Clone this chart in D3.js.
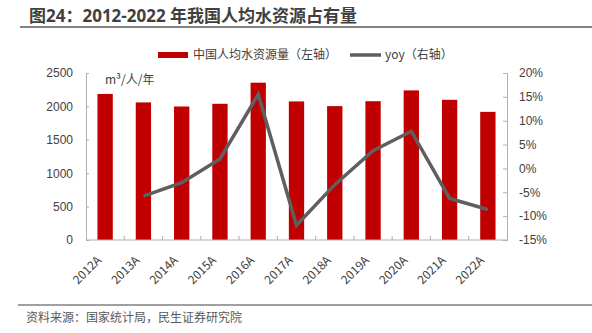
<!DOCTYPE html>
<html>
<head>
<meta charset="utf-8">
<script src="https://cdn.jsdelivr.net/npm/d3@7"></script>
<style>
  html, body { margin: 0; padding: 0; background: #fff; }
  svg { display: block; font-family: "Noto Sans CJK SC", "Noto Sans", sans-serif; }
</style>
</head>
<body>
<svg id="chart" width="592" height="333"></svg>
<script>
// 2012-2022 人均水资源量（m³/人/年）及同比
const years   = ['2012A', '2013A', '2014A', '2015A', '2016A', '2017A', '2018A', '2019A', '2020A', '2021A', '2022A'];
const water   = [2186.2, 2059.7, 1998.6, 2039.2, 2354.9, 2074.5, 2004.3, 2077.7, 2239.8, 2098.5, 1918.2];
const yoy     = [null, -5.8, -3.0, 2.0, 15.5, -11.9, -3.4, 3.7, 7.8, -6.3, -8.6];
const leftTicks  = [0, 500, 1000, 1500, 2000, 2500];
const rightTicks = [-15, -10, -5, 0, 5, 10, 15, 20];

const RED  = '#c00000';
const GREY = '#5f5f5f';
const AXIS = '#b0b0b0';
const TEXT = '#404040';

const svg = d3.select('#chart');
const plot = { left: 86, right: 507, top: 73, bottom: 240 };

// ── 标题 ───────────────────────────────────────────────
svg.append('text')
  .attr('x', 29).attr('y', 22)
  .attr('font-family', '"Open Sans", "Noto Sans CJK SC", sans-serif')
  .attr('font-size', 17).attr('font-weight', 'bold')
  .attr('fill', TEXT)
  .text('图24：2012-2022 年我国人均水资源占有量');
svg.append('line')
  .attr('x1', 20).attr('x2', 592).attr('y1', 27).attr('y2', 27)
  .attr('stroke', '#595959').attr('stroke-width', 1.5);

// ── 比例尺 ─────────────────────────────────────────────
const x = d3.scaleBand().domain(years)
  .range([plot.left, plot.right]).paddingInner(0.6).paddingOuter(0.3);
const yL = d3.scaleLinear().domain([0, 2500]).range([plot.bottom, plot.top]);
const yR = d3.scaleLinear().domain([-15, 20]).range([plot.bottom, plot.top]);

// ── 柱 ─────────────────────────────────────────────────
svg.append('g').selectAll('rect')
  .data(years.map((y, i) => ({ y, v: water[i] })))
  .join('rect')
  .attr('x', d => x(d.y))
  .attr('width', x.bandwidth())
  .attr('y', d => yL(d.v))
  .attr('height', d => yL(0) - yL(d.v))
  .attr('fill', RED);

// ── 折线（右轴）───────────────────────────────────────
const line = d3.line()
  .defined(d => d.v != null)
  .x(d => x(d.y) + x.bandwidth() / 2)
  .y(d => yR(d.v));
svg.append('path')
  .datum(years.map((y, i) => ({ y, v: yoy[i] })))
  .attr('d', line)
  .attr('fill', 'none')
  .attr('stroke', GREY)
  .attr('stroke-width', 3.5)
  .attr('stroke-linejoin', 'miter');

// ── 坐标轴 ─────────────────────────────────────────────
const axisStyle = g => {
  g.selectAll('path, line').attr('stroke', AXIS);
  g.selectAll('text').attr('fill', TEXT).attr('font-size', 12);
};

svg.append('g')
  .attr('transform', `translate(${plot.left},0)`)
  .call(d3.axisLeft(yL).tickValues(leftTicks).tickFormat(d3.format('d'))
    .tickSizeInner(-3).tickSizeOuter(-3).tickPadding(13))
  .call(axisStyle);

svg.append('g')
  .attr('transform', `translate(${plot.right},0)`)
  .call(d3.axisRight(yR).tickValues(rightTicks).tickFormat(d => d + '%')
    .tickSizeInner(-4).tickSizeOuter(-4).tickPadding(12))
  .call(axisStyle);

// 横轴：刻度位于类别边界，朝上
const xg = svg.append('g').attr('transform', `translate(0,${plot.bottom})`);
xg.append('line')
  .attr('x1', plot.left).attr('x2', plot.right)
  .attr('stroke', AXIS);
const step = x.step();
xg.selectAll('line.tick')
  .data(years.slice(1))
  .join('line')
  .attr('class', 'tick')
  .attr('x1', d => x(d) - step * x.paddingInner() / 2)
  .attr('x2', d => x(d) - step * x.paddingInner() / 2)
  .attr('y1', 0).attr('y2', -4)
  .attr('stroke', AXIS);
xg.selectAll('text')
  .data(years)
  .join('text')
  .attr('transform', d => `translate(${x(d) + x.bandwidth() / 2 - 6},18) rotate(-45)`)
  .attr('text-anchor', 'end')
  .attr('dy', '0.35em')
  .attr('font-size', 12)
  .attr('fill', TEXT)
  .text(d => d);

// 单位
svg.append('text')
  .attr('x', 105).attr('y', 84)
  .attr('font-size', 12).attr('fill', TEXT)
  .text('m³/人/年');

// ── 图例 ───────────────────────────────────────────────
svg.append('rect')
  .attr('x', 158).attr('y', 52).attr('width', 30).attr('height', 6)
  .attr('fill', RED);
svg.append('text')
  .attr('x', 193).attr('y', 55).attr('dy', '0.35em')
  .attr('font-size', 12).attr('fill', TEXT)
  .text('中国人均水资源量（左轴）');
svg.append('line')
  .attr('x1', 350).attr('x2', 381).attr('y1', 55).attr('y2', 55)
  .attr('stroke', GREY).attr('stroke-width', 3.5);
svg.append('text')
  .attr('x', 385).attr('y', 55).attr('dy', '0.35em')
  .attr('font-size', 12).attr('fill', TEXT)
  .text('yoy（右轴）');

// ── 资料来源 ───────────────────────────────────────────
svg.append('line')
  .attr('x1', 18).attr('x2', 592).attr('y1', 305).attr('y2', 305)
  .attr('stroke', '#808080').attr('stroke-width', 1.5);
svg.append('text')
  .attr('x', 26).attr('y', 318).attr('dy', '0.35em')
  .attr('font-size', 12).attr('fill', '#595959')
  .text('资料来源：国家统计局，民生证券研究院');
</script>
</body>
</html>
